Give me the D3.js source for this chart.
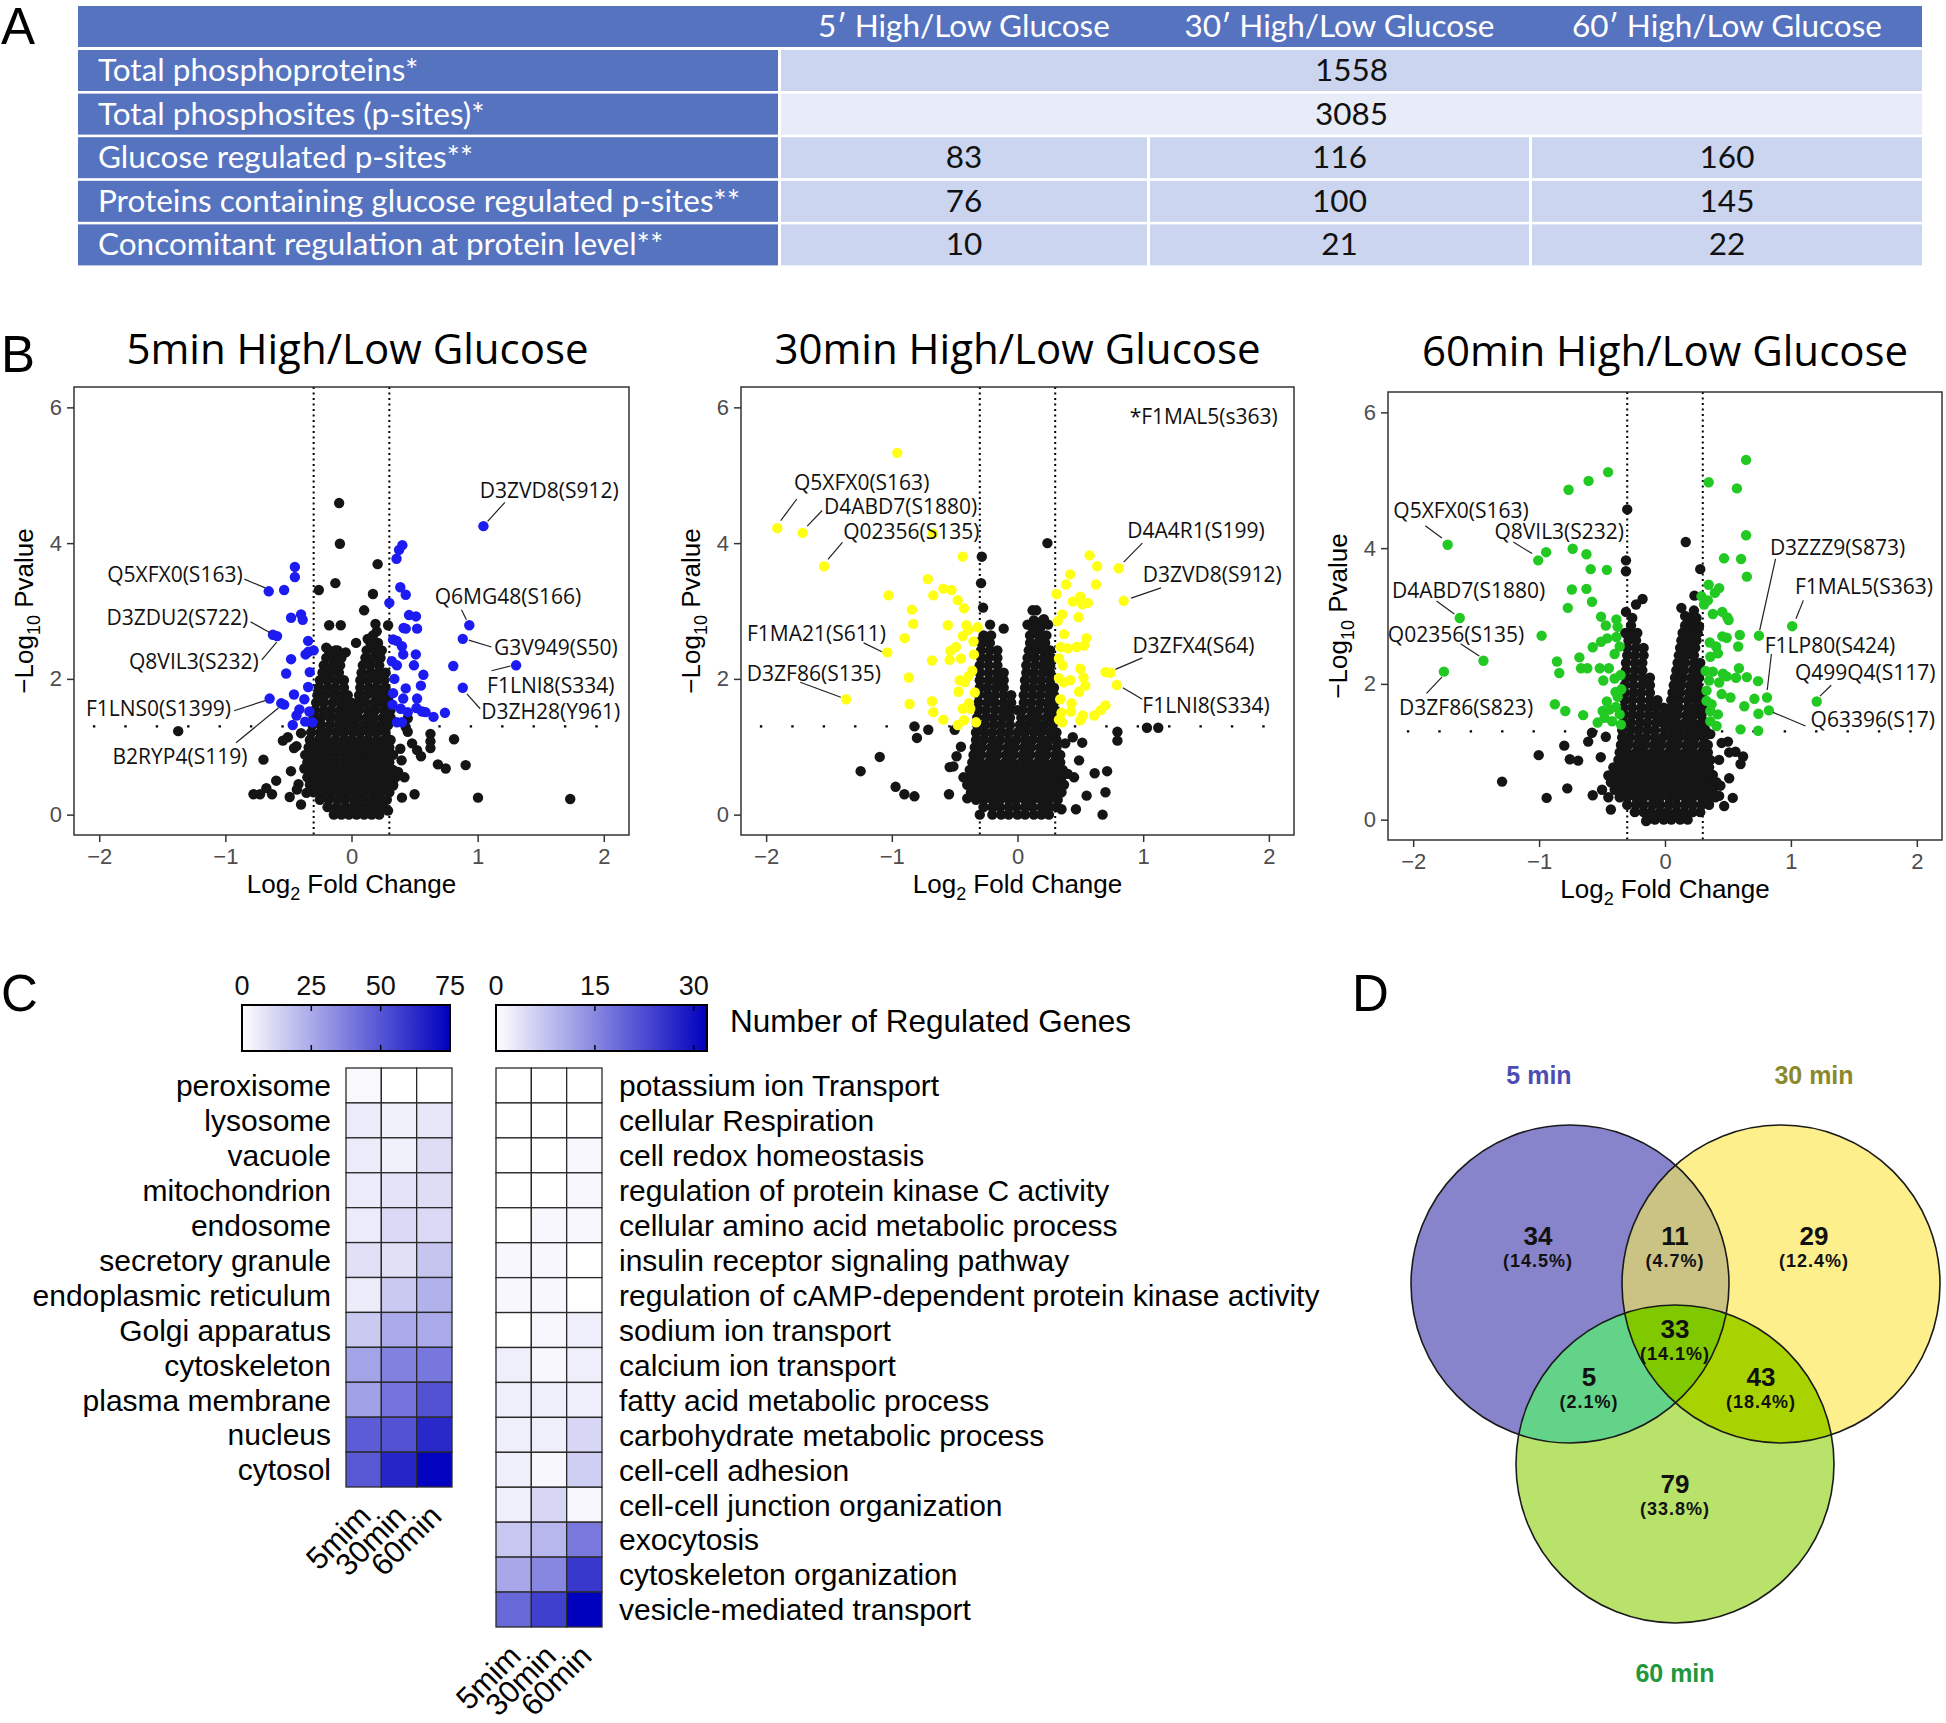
<!DOCTYPE html>
<html><head><meta charset="utf-8">
<script src="https://cdn.jsdelivr.net/npm/d3@7"></script>
<style>body{margin:0;background:#fff}svg{display:block}</style>
</head><body>
<svg id="fig" width="1946" height="1723"></svg>
<script>
// ================= DATA =================
// Panel A table
const tableHeader = ["5\u2032 High/Low Glucose","30\u2032 High/Low Glucose","60\u2032 High/Low Glucose"];
const tableRowLabels = ["Total phosphoproteins*","Total phosphosites (p-sites)*","Glucose regulated p-sites**","Proteins containing glucose regulated p-sites**","Concomitant regulation at protein level**"];
const tableValues = [[1558],[3085],[83,116,160],[76,100,145],[10,21,22]];

// Panel B volcano plots
const volcanoTitles = ["5min High/Low Glucose","30min High/Low Glucose","60min High/Low Glucose"];
const xTicks = [-2,-1,0,1,2];
const yTicks = [0,2,4,6];
const fcCut = [-0.3,0.3];
const pCut = 1.3;

// dense non-regulated cloud, rows of [-log10 p, [log2 FC ...]]
const blob5 = [
[0.00,[-0.14,-0.08,-0.02,0.04,0.10,0.16,0.22]],
[0.11,[-0.19,-0.12,-0.05,0.01,0.07,0.13,0.19,0.25]],
[0.22,[-0.25,-0.18,-0.11,-0.05,0.02,0.08,0.15,0.21,0.28]],
[0.33,[-0.30,-0.23,-0.16,-0.09,-0.03,0.04,0.10,0.17,0.23,0.30]],
[0.44,[-0.33,-0.26,-0.20,-0.13,-0.06,0.00,0.07,0.13,0.20,0.26,0.33]],
[0.55,[-0.35,-0.29,-0.22,-0.16,-0.09,-0.03,0.04,0.10,0.17,0.23,0.30,0.35]],
[0.66,[-0.33,-0.26,-0.20,-0.13,-0.06,0.00,0.07,0.13,0.20,0.26,0.33]],
[0.77,[-0.35,-0.29,-0.22,-0.16,-0.09,-0.03,0.04,0.10,0.17,0.23,0.30]],
[0.88,[-0.33,-0.26,-0.20,-0.13,-0.06,0.00,0.07,0.13,0.20,0.26,0.33]],
[0.99,[-0.34,-0.29,-0.22,-0.16,-0.09,-0.03,0.04,0.10,0.17,0.23,0.30]],
[1.10,[-0.33,-0.26,-0.20,-0.13,-0.06,0.00,0.07,0.13,0.20,0.26,0.31]],
[1.21,[-0.32,-0.25,-0.19,-0.12,-0.06,0.01,0.07,0.14,0.20,0.27]],
[1.32,[-0.31,-0.24,-0.17,-0.10,-0.04,0.03,0.10,0.16,0.23,0.29]],
[1.43,[-0.30,-0.24,-0.17,-0.11,-0.05,0.00,0.05,0.12,0.18,0.25,0.31]],
[1.54,[-0.29,-0.22,-0.16,-0.09,-0.03,0.02,0.06,0.13,0.19,0.26,0.31]],
[1.65,[-0.28,-0.22,-0.15,-0.09,-0.04,0.00,0.05,0.11,0.18,0.24,0.30]],
[1.76,[-0.27,-0.21,-0.14,-0.08,-0.03,0.06,0.12,0.19,0.25,0.30]],
[1.87,[-0.26,-0.19,-0.13,-0.06,0.07,0.14,0.20,0.27]],
[1.98,[-0.25,-0.19,-0.12,-0.06,0.07,0.13,0.20,0.26]],
[2.09,[-0.23,-0.17,-0.10,0.08,0.15,0.21,0.27]],
[2.20,[-0.22,-0.15,-0.09,0.09,0.15,0.22]],
[2.31,[-0.20,-0.14,-0.08,0.11,0.17,0.23]],
[2.42,[-0.18,-0.11,0.12,0.19,0.24]],
[2.53,[0.15,0.21]],
[2.64,[0.17]]
];
const blob30 = [
[0.00,[-0.20,-0.13,-0.07,0.00,0.06,0.13,0.19,0.25]],
[0.11,[-0.27,-0.20,-0.14,-0.07,-0.01,0.06,0.12,0.19,0.25,0.31]],
[0.22,[-0.33,-0.27,-0.20,-0.14,-0.07,-0.01,0.06,0.12,0.19,0.25,0.32]],
[0.33,[-0.37,-0.30,-0.23,-0.17,-0.10,-0.04,0.03,0.09,0.16,0.22,0.29,0.35]],
[0.44,[-0.40,-0.33,-0.27,-0.20,-0.14,-0.07,-0.01,0.06,0.12,0.19,0.25,0.32,0.37]],
[0.55,[-0.37,-0.30,-0.23,-0.17,-0.10,-0.04,0.03,0.09,0.16,0.22,0.29,0.35]],
[0.66,[-0.38,-0.33,-0.27,-0.20,-0.14,-0.07,-0.01,0.06,0.12,0.19,0.25,0.32,0.36]],
[0.77,[-0.36,-0.30,-0.23,-0.17,-0.10,-0.04,0.03,0.09,0.16,0.22,0.29,0.34]],
[0.88,[-0.35,-0.29,-0.22,-0.16,-0.09,-0.03,0.04,0.10,0.17,0.23,0.30,0.34]],
[0.99,[-0.34,-0.28,-0.21,-0.15,-0.08,-0.02,0.05,0.11,0.18,0.24,0.31]],
[1.10,[-0.33,-0.27,-0.20,-0.14,-0.07,-0.01,0.06,0.12,0.19,0.25,0.31]],
[1.21,[-0.33,-0.26,-0.20,-0.13,-0.07,0.00,0.06,0.13,0.19,0.26,0.31]],
[1.32,[-0.32,-0.26,-0.19,-0.13,-0.06,0.02,0.08,0.15,0.21,0.28]],
[1.43,[-0.32,-0.25,-0.19,-0.12,-0.06,0.03,0.10,0.16,0.23,0.29]],
[1.54,[-0.31,-0.25,-0.18,-0.12,-0.06,0.00,0.04,0.11,0.17,0.24,0.30]],
[1.65,[-0.31,-0.24,-0.18,-0.11,-0.05,0.05,0.11,0.18,0.24,0.29]],
[1.76,[-0.31,-0.24,-0.18,-0.11,-0.05,0.05,0.12,0.18,0.25,0.29]],
[1.87,[-0.30,-0.24,-0.17,-0.11,0.06,0.12,0.19,0.25,0.29]],
[1.98,[-0.30,-0.23,-0.17,-0.11,0.06,0.13,0.19,0.26]],
[2.09,[-0.30,-0.23,-0.16,-0.11,0.07,0.13,0.20,0.26]],
[2.20,[-0.30,-0.23,-0.16,0.07,0.14,0.20,0.26]],
[2.31,[-0.29,-0.23,-0.16,0.08,0.14,0.21,0.27]],
[2.42,[-0.29,-0.22,-0.16,0.09,0.15,0.21,0.26]],
[2.53,[-0.28,-0.22,0.10,0.16,0.22]],
[2.64,[-0.27,-0.21,0.10,0.17,0.23]],
[2.75,[0.12,0.18]],
[2.86,[0.13,0.20]]
];
const blob60 = [
[0.00,[-0.14,-0.08,-0.01,0.05,0.12,0.18]],
[0.11,[-0.24,-0.17,-0.11,-0.04,0.02,0.09,0.15,0.22,0.28]],
[0.22,[-0.30,-0.23,-0.17,-0.10,-0.04,0.03,0.09,0.16,0.22,0.29,0.35]],
[0.33,[-0.36,-0.30,-0.23,-0.17,-0.10,-0.04,0.03,0.09,0.16,0.22,0.29,0.35,0.40]],
[0.44,[-0.40,-0.33,-0.27,-0.20,-0.14,-0.07,-0.01,0.06,0.12,0.19,0.25,0.32,0.38]],
[0.55,[-0.43,-0.37,-0.30,-0.23,-0.17,-0.10,-0.04,0.03,0.09,0.16,0.22,0.29,0.35,0.41]],
[0.66,[-0.40,-0.33,-0.27,-0.20,-0.14,-0.07,-0.01,0.06,0.12,0.19,0.25,0.32,0.38]],
[0.77,[-0.41,-0.36,-0.30,-0.23,-0.17,-0.10,-0.04,0.03,0.09,0.16,0.22,0.29,0.35]],
[0.88,[-0.37,-0.33,-0.27,-0.20,-0.14,-0.07,-0.01,0.06,0.12,0.19,0.25,0.32,0.36]],
[0.99,[-0.36,-0.30,-0.23,-0.17,-0.10,-0.04,0.03,0.09,0.16,0.22,0.29,0.34]],
[1.10,[-0.35,-0.29,-0.22,-0.16,-0.09,-0.03,0.04,0.10,0.17,0.23,0.30,0.34]],
[1.21,[-0.34,-0.28,-0.21,-0.15,-0.08,-0.02,0.05,0.11,0.18,0.24,0.31]],
[1.32,[-0.34,-0.27,-0.21,-0.14,-0.08,0.00,0.07,0.13,0.20,0.26,0.32]],
[1.43,[-0.33,-0.27,-0.20,-0.14,-0.07,-0.02,0.03,0.09,0.16,0.22,0.29,0.32]],
[1.54,[-0.33,-0.26,-0.20,-0.13,-0.07,-0.01,0.04,0.10,0.17,0.23,0.29]],
[1.65,[-0.33,-0.26,-0.19,-0.13,-0.07,-0.01,0.05,0.11,0.18,0.24,0.30]],
[1.76,[-0.32,-0.26,-0.19,-0.12,-0.06,0.05,0.11,0.18,0.24,0.30]],
[1.87,[-0.32,-0.25,-0.19,-0.12,0.06,0.12,0.19,0.25,0.30]],
[1.98,[-0.32,-0.25,-0.18,-0.12,0.07,0.13,0.20,0.26]],
[2.09,[-0.31,-0.25,-0.18,-0.12,0.08,0.14,0.21,0.27]],
[2.20,[-0.31,-0.24,-0.18,0.09,0.15,0.22,0.28]],
[2.31,[-0.31,-0.24,-0.18,0.10,0.16,0.23,0.28]],
[2.42,[-0.30,-0.24,-0.17,0.11,0.17,0.23]],
[2.53,[-0.30,-0.23,-0.17,0.12,0.18,0.24]],
[2.64,[-0.29,-0.23,0.13,0.19,0.25]],
[2.75,[-0.28,-0.22,0.14,0.20,0.26]],
[2.86,[-0.27,0.16,0.22]],
[2.97,[-0.26,0.19,0.25]],
[3.08,[0.23]]
];

// scattered non-regulated sites [log2FC, -log10 p]
const black5 = [[-0.098,4.59],[-0.092,3.99],[0.207,3.69],[-0.128,3.41],[-0.259,3.31],[0.17,3.25],[0.10,3.01],[-0.177,2.79],[-0.085,2.79],[0.19,2.81],[0.29,2.79],[0.20,2.70],[0.036,2.53],[0.128,2.59],[0.167,2.52],[-0.20,2.46],[-0.128,2.42],[-0.046,2.39],[-1.374,1.23],[-0.698,0.81],[-0.544,1.09],[-0.505,1.14],[0.813,1.11],[0.626,1.19],[0.626,1.08],[0.626,0.98],[0.551,0.86],[0.685,0.74],[0.747,0.68],[0.905,0.73],[1.003,0.25],[1.734,0.23],[-0.777,0.30],[-0.725,0.30],[-0.675,0.39],[-0.63,0.30],[-0.597,0.50],[-0.49,0.26],[-0.433,0.37],[-0.48,0.64],[-0.456,0.98],[-0.436,1.01],[-0.357,0.32],[-0.374,0.68],[-0.367,0.88],[0.446,1.22],[0.446,1.42],[0.43,1.29],[0.387,0.97],[0.397,0.80],[0.37,0.63],[0.33,0.43],[0.29,0.06],[-0.40,1.20],[-0.42,0.45],[0.42,0.55],[0.48,1.05],[0.52,0.95],[-0.40,0.15],[0.40,0.25],[0.50,0.30]];
const black30 = [[0.238,4.00],[-0.284,3.80],[-0.29,3.41],[-0.274,3.05],[0.12,3.01],[0.15,3.01],[0.21,2.88],[0.244,2.80],[0.08,2.80],[0.135,2.81],[-0.218,2.80],[-0.11,2.74],[-0.294,2.55],[1.03,1.28],[1.12,1.28],[-0.82,1.30],[-0.80,1.13],[-0.71,1.25],[-1.096,0.85],[-1.248,0.64],[-0.97,0.41],[-0.90,0.30],[-0.82,0.27],[-0.545,0.30],[-0.54,0.70],[-0.51,0.71],[-0.485,0.86],[-0.40,0.24],[0.795,1.22],[0.795,1.09],[0.614,0.61],[0.713,0.64],[0.70,0.33],[0.677,0.0],[0.55,0.28],[0.465,0.08],[0.35,0.08],[0.515,1.06],[0.44,1.14],[0.49,0.80],[0.45,0.55],[-0.45,1.0],[-0.50,1.25],[-0.43,0.55],[0.38,1.05],[0.40,0.60],[-0.30,0.0]];
const black60 = [[-0.30,4.57],[-0.31,3.82],[-0.31,3.66],[0.165,4.09],[0.28,3.69],[-0.178,3.25],[-0.23,3.17],[-0.31,3.06],[-0.315,2.75],[0.234,3.30],[0.13,3.12],[0.16,3.00],[0.24,2.95],[0.16,2.80],[0.27,2.85],[-1.294,0.56],[-1.003,0.95],[-0.94,0.32],[-0.80,1.09],[-0.756,0.89],[-0.69,0.87],[-0.776,0.46],[-0.574,0.36],[-0.50,0.44],[-0.45,0.33],[-0.61,1.15],[-0.58,1.28],[-0.51,0.92],[0.538,0.32],[0.62,0.93],[0.60,0.82],[0.51,0.61],[0.44,0.50],[0.43,0.35],[0.51,0.99],[0.56,1.00],[0.36,1.26],[0.45,1.13],[0.43,0.88],[-0.15,-0.02],[-0.47,1.22],[-0.45,0.65],[-0.43,0.15],[0.47,0.20],[0.50,1.15]];

// glucose-regulated p-sites
const reg5 = [[-0.656,3.29],[-0.534,3.31],[-0.449,3.65],[-0.449,3.50],[-0.479,2.90],[-0.40,2.95],[-0.387,2.87],[-0.623,2.65],[-0.59,2.63],[-0.344,2.56],[-0.364,2.36],[-0.341,2.40],[-0.30,2.42],[-0.479,2.29],[-0.331,2.10],[-0.518,2.08],[-0.344,1.88],[-0.456,1.77],[-0.649,1.71],[-0.557,1.64],[-0.534,1.62],[-0.374,1.70],[-0.413,1.55],[-0.436,1.46],[-0.334,1.52],[-0.367,1.37],[-0.466,1.32],[-0.31,1.36],
[1.046,4.25],[0.403,3.97],[0.377,3.90],[0.357,3.77],[0.387,3.35],[0.43,3.24],[0.30,3.12],[0.456,2.94],[0.511,2.92],[0.413,2.75],[0.43,2.74],[0.52,2.74],[0.934,2.79],[0.882,2.59],[0.33,2.58],[0.36,2.56],[0.40,2.48],[0.41,2.36],[0.51,2.36],[0.32,2.26],[0.36,2.20],[0.495,2.20],[0.807,2.19],[1.305,2.20],[0.57,2.06],[0.34,2.00],[0.55,1.90],[0.43,1.86],[0.882,1.87],[0.33,1.79],[0.41,1.71],[0.52,1.71],[0.325,1.62],[0.39,1.56],[0.515,1.57],[0.56,1.52],[0.587,1.51],[0.65,1.44],[0.741,1.50],[0.36,1.36],[0.40,1.36],[0.446,1.51]];
const reg30 = [[-0.957,5.33],[-1.911,4.22],[-1.71,4.15],[-0.673,4.14],[-1.538,3.66],[-0.436,3.80],[-0.713,3.47],[-1.026,3.23],[-0.670,3.23],[-0.59,3.33],[-0.525,3.31],[-0.475,3.16],[-0.426,3.04],[-0.84,3.02],[-0.83,2.81],[-0.554,2.79],[-0.406,2.79],[-0.393,2.72],[-0.317,2.76],[-0.436,2.63],[-0.898,2.60],[-1.036,2.39],[-0.535,2.41],[-0.49,2.47],[-0.68,2.27],[-0.54,2.28],[-0.347,2.36],[-0.865,2.02],[-0.46,1.98],[-0.39,2.04],[-0.42,1.95],[-0.36,2.12],[-0.47,1.81],[-1.363,1.70],[-0.858,1.63],[-0.68,1.67],[-0.67,1.51],[-0.59,1.40],[-0.475,1.32],[-0.426,1.39],[-0.376,1.56],[-0.33,1.36],[-0.386,1.64],[-0.436,1.56],[-0.34,1.80],[-0.45,2.30],[-0.35,2.55],
[0.574,3.82],[0.805,3.63],[0.634,3.66],[0.419,3.54],[0.386,3.39],[0.624,3.39],[0.31,3.25],[0.845,3.15],[0.44,3.14],[0.50,3.21],[0.56,3.12],[0.515,3.10],[0.356,2.95],[0.485,2.91],[0.32,2.85],[0.37,2.66],[0.548,2.60],[0.343,2.47],[0.40,2.45],[0.47,2.47],[0.53,2.49],[0.70,2.10],[0.74,2.09],[0.50,2.15],[0.525,2.02],[0.33,2.01],[0.366,1.95],[0.42,1.98],[0.79,1.91],[0.54,1.90],[0.34,1.70],[0.43,1.64],[0.49,1.81],[0.70,1.61],[0.663,1.54],[0.35,1.50],[0.426,1.52],[0.61,1.46],[0.52,1.46],[0.50,1.39],[0.356,1.36],[0.33,2.30],[0.36,2.20],[0.33,1.40]];
const reg60 = [[-1.726,4.05],[-1.63,2.97],[-1.442,2.34],[-1.756,2.18],[-1.007,3.82],[-0.944,3.94],[-0.733,3.99],[-0.624,3.91],[-0.59,3.69],[-0.462,3.68],[-0.766,4.86],[-0.607,4.99],[-0.452,5.12],[-0.74,3.39],[-0.624,3.40],[-0.58,3.21],[-0.772,3.12],[-0.98,2.71],[-0.508,2.99],[-0.47,2.86],[-0.386,2.95],[-0.376,2.84],[-0.459,2.67],[-0.386,2.69],[-0.574,2.54],[-0.508,2.62],[-0.40,2.44],[-0.36,2.55],[-0.858,2.33],[-0.84,2.16],[-0.68,2.39],[-0.667,2.23],[-0.617,2.23],[-0.518,2.23],[-0.446,2.23],[-0.49,2.05],[-0.40,2.08],[-0.353,2.13],[-0.347,1.92],[-0.393,1.88],[-0.875,1.70],[-0.792,1.60],[-0.65,1.54],[-0.462,1.74],[-0.376,1.81],[-0.495,1.60],[-0.44,1.62],[-0.39,1.66],[-0.535,1.43],[-0.48,1.50],[-0.42,1.45],[-0.36,1.55],[-0.35,1.40],
[0.644,5.30],[0.347,4.97],[0.571,4.88],[0.644,4.19],[0.469,3.85],[0.604,3.84],[0.65,3.58],[0.347,3.46],[0.43,3.41],[0.396,3.34],[0.29,3.29],[0.31,3.17],[0.34,3.23],[0.455,3.06],[0.495,2.98],[0.505,2.94],[0.38,3.03],[0.594,2.72],[0.746,2.71],[1.01,2.85],[0.455,2.70],[0.49,2.68],[0.581,2.55],[0.406,2.55],[0.356,2.61],[0.36,2.40],[0.42,2.45],[0.587,2.23],[0.323,2.19],[0.38,2.18],[0.46,2.15],[0.49,2.11],[0.739,2.04],[0.65,2.10],[0.564,2.09],[0.43,2.02],[0.81,1.80],[0.71,1.78],[1.205,1.74],[0.63,1.67],[0.825,1.61],[0.742,1.56],[0.42,1.55],[0.36,1.60],[0.37,1.70],[0.33,1.75],[0.60,1.33],[0.74,1.31],[0.36,1.45],[0.41,1.38],[0.33,1.90],[0.35,2.05],[0.45,1.85],[0.52,1.80]];

// labelled sites: text, text centre (data units), leader line [x1,y1,x2,y2]
const labels5 = [
{t:"D3ZVD8(S912)",x:1.567,y:4.77,line:[1.216,4.60,1.079,4.32]},
{t:"Q5XFX0(S163)",x:-1.40,y:3.54,line:[-0.849,3.47,-0.685,3.34]},
{t:"D3ZDU2(S722)",x:-1.38,y:2.91,line:[-0.80,2.84,-0.646,2.68]},
{t:"Q8VIL3(S232)",x:-1.25,y:2.25,line:[-0.711,2.28,-0.593,2.54]},
{t:"F1LNS0(S1399)",x:-1.53,y:1.56,line:[-0.931,1.53,-0.685,1.68]},
{t:"B2RYP4(S119)",x:-1.36,y:0.85,line:[-0.915,1.06,-0.58,1.57]},
{t:"Q6MG48(S166)",x:1.24,y:3.22,line:[0.872,3.02,0.911,2.87]},
{t:"G3V949(S50)",x:1.62,y:2.47,line:[1.11,2.47,0.93,2.57]},
{t:"F1LNI8(S334)",x:1.58,y:1.91,line:[1.11,2.12,1.26,2.19]},
{t:"D3ZH28(Y961)",x:1.58,y:1.52,line:[1.02,1.56,0.915,1.78]}];
const labels30 = [
{t:"*F1MAL5(s363)",x:2.07,y:5.86,anchor:"end"},
{t:"Q5XFX0(S163)",x:-1.24,y:4.89,line:[-1.756,4.65,-1.884,4.33]},
{t:"D4ABD7(S1880)",x:-0.93,y:4.54,line:[-1.554,4.48,-1.673,4.25]},
{t:"Q02356(S135)",x:-0.845,y:4.17,line:[-1.393,4.01,-1.508,3.76]},
{t:"F1MA21(S611)",x:-1.60,y:2.67,line:[-1.224,2.53,-1.079,2.40]},
{t:"D3ZF86(S135)",x:-1.62,y:2.08,line:[-1.729,1.95,-1.406,1.73]},
{t:"D4A4R1(S199)",x:1.42,y:4.18,line:[0.993,4.00,0.845,3.72]},
{t:"D3ZVD8(S912)",x:1.55,y:3.54,line:[1.142,3.34,0.904,3.19]},
{t:"D3ZFX4(S64)",x:1.40,y:2.49,line:[0.993,2.31,0.779,2.14]},
{t:"F1LNI8(S334)",x:1.50,y:1.61,line:[0.993,1.70,0.838,1.87]}];
const labels60 = [
{t:"Q5XFX0(S163)",x:-1.62,y:4.55,line:[-1.904,4.33,-1.772,4.15]},
{t:"Q8VIL3(S232)",x:-0.84,y:4.24,line:[-1.205,4.09,-1.056,3.92]},
{t:"D4ABD7(S1880)",x:-1.56,y:3.37,line:[-1.815,3.22,-1.673,3.03]},
{t:"Q02356(S135)",x:-1.66,y:2.73,line:[-1.624,2.59,-1.475,2.41]},
{t:"D3ZF86(S823)",x:-1.58,y:1.65,line:[-1.894,1.86,-1.772,2.10]},
{t:"D3ZZZ9(S873)",x:1.37,y:4.01,line:[0.878,3.84,0.752,2.79]},
{t:"F1MAL5(S363)",x:1.58,y:3.43,line:[1.099,3.23,1.04,2.96]},
{t:"F1LP80(S424)",x:1.31,y:2.57,line:[0.845,2.44,0.812,1.91]},
{t:"Q499Q4(S117)",x:1.59,y:2.17,line:[1.32,1.98,1.231,1.82]},
{t:"Q63396(S17)",x:1.65,y:1.47,line:[1.116,1.38,0.858,1.58]}];

// Panel C heatmaps
const timeLabels = ["5mim","30min","60min"];
const ccTerms = ["peroxisome","lysosome","vacuole","mitochondrion","endosome","secretory granule","endoplasmic reticulum","Golgi apparatus","cytoskeleton","plasma membrane","nucleus","cytosol"];
const ccCounts = [[2,0,0],[6,4,7],[6,4,10],[6,8,10],[6,11,11],[9,9,17],[6,16,23],[16,25,25],[27,37,40],[28,41,51],[48,51,63],[49,64,74]];
const ccTicks = [0,25,50,75];
const bpTerms = ["potassium ion Transport","cellular Respiration","cell redox homeostasis","regulation of protein kinase C activity","cellular amino acid metabolic process","insulin receptor signaling pathway","regulation of cAMP-dependent protein kinase activity","sodium ion transport","calcium ion transport","fatty acid metabolic process","carbohydrate metabolic process","cell-cell adhesion","cell-cell junction organization","exocytosis","cytoskeleton organization","vesicle-mediated transport"];
const bpCounts = [[0,0,0],[0,0,0],[0,0,1],[0,0,1],[0,1,1],[1,1,0],[1,1,0],[0,1,2],[2,1,2],[2,2,2],[2,2,5],[2,1,6],[2,5,1],[7,9,17],[11,15,25],[19,24,32]];
const bpTicks = [0,15,30];

// Panel D Venn
const vennSets = ["5 min","30 min","60 min"];
const vennRegions = ["5","30","60","5&30","5&60","30&60","5&30&60"];
const vennCounts = [34,29,79,11,5,43,33];
const vennPercents = ["14.5%","12.4%","33.8%","4.7%","2.1%","18.4%","14.1%"];

// ================= DRAWING =================
const svg = d3.select("#fig");
const ARIAL = "'Liberation Sans', Arial, Helvetica, sans-serif";
const TABF = "Lato, 'Open Sans', sans-serif";
const PLOTF = "'Open Sans', 'Noto Sans', sans-serif";
const defs = svg.append("defs");

function panelLetter(t,x,y){
  svg.append("text").attr("x",x).attr("y",y).attr("font-family",ARIAL).attr("font-size",51).attr("fill","#000").text(t);
}
panelLetter("A",1,44); panelLetter("B",1,372); panelLetter("C",1,1011); panelLetter("D",1352,1011);

// ---------- Panel A ----------
(function(){
  const g = svg.append("g").attr("font-family",TABF).attr("font-size",31.5);
  const dark="#5673bf", light="#cbd5f0", lighter="#e8ecf8";
  const X0=78, X1=1922, labR=778;
  const dataCols=[[781,1147],[1150,1529],[1532,1922]];
  g.append("rect").attr("x",X0).attr("y",6).attr("width",X1-X0).attr("height",41).attr("fill",dark);
  tableHeader.forEach((h,j)=>{
    g.append("text").attr("x",(dataCols[j][0]+dataCols[j][1])/2).attr("y",37).attr("text-anchor","middle").attr("fill","#fff").text(h);
  });
  tableRowLabels.forEach((lab,i)=>{
    const top=50+i*43.6;
    g.append("rect").attr("x",X0).attr("y",top).attr("width",labR-X0).attr("height",41).attr("fill",dark);
    g.append("text").attr("x",98).attr("y",top+31).attr("fill","#fff").text(lab);
    const vals=tableValues[i];
    if(vals.length===1){
      g.append("rect").attr("x",781).attr("y",top).attr("width",X1-781).attr("height",41).attr("fill",i===1?lighter:light);
      g.append("text").attr("x",(781+X1)/2).attr("y",top+31).attr("text-anchor","middle").attr("fill","#111").text(vals[0]);
    } else {
      vals.forEach((v,j)=>{
        g.append("rect").attr("x",dataCols[j][0]).attr("y",top).attr("width",dataCols[j][1]-dataCols[j][0]).attr("height",41).attr("fill",light);
        g.append("text").attr("x",(dataCols[j][0]+dataCols[j][1])/2).attr("y",top+31).attr("text-anchor","middle").attr("fill","#111").text(v);
      });
    }
  });
})();

// ---------- Panel B ----------
function drawVolcano(cfg){
  const {left,top,width,height}=cfg;
  const g=svg.append("g");
  const x=d3.scaleLinear().domain([-2.2,2.2]).range([left,left+width]);
  const y=d3.scaleLinear().domain([-0.3,6.3]).range([top+height,top]);
  g.append("rect").attr("x",left).attr("y",top).attr("width",width).attr("height",height).attr("fill","#fff");
  g.selectAll(".vcut").data(fcCut).join("line").attr("x1",d=>x(d)).attr("x2",d=>x(d)).attr("y1",top).attr("y2",top+height)
    .attr("stroke","#000").attr("stroke-width",2).attr("stroke-dasharray","2,3.5");
  g.append("line").attr("x1",x(-2.05)).attr("x2",x(2.05)).attr("y1",y(pCut)).attr("y2",y(pCut))
    .attr("stroke","#000").attr("stroke-width",2.4).attr("stroke-dasharray","2.4,29");
  const cloud=cfg.blob.flatMap(([yy,xs])=>xs.map(xx=>[xx,yy])).concat(cfg.black);
  g.append("g").selectAll("circle").data(cloud).join("circle")
    .attr("cx",d=>x(d[0])).attr("cy",d=>y(d[1])).attr("r",5.2).attr("fill","#151515");
  g.append("g").selectAll("circle").data(cfg.reg).join("circle")
    .attr("cx",d=>x(d[0])).attr("cy",d=>y(d[1])).attr("r",5.2).attr("fill",cfg.color);
  g.append("g").selectAll("line").data(cfg.labels.filter(d=>d.line)).join("line")
    .attr("x1",d=>x(d.line[0])).attr("y1",d=>y(d.line[1])).attr("x2",d=>x(d.line[2])).attr("y2",d=>y(d.line[3]))
    .attr("stroke","#222").attr("stroke-width",1.2);
  g.append("g").selectAll("text").data(cfg.labels).join("text")
    .attr("x",d=>x(d.x)).attr("y",d=>y(d.y)).attr("dy","0.36em").attr("text-anchor",d=>d.anchor||"middle")
    .attr("font-family",PLOTF).attr("font-size",21).attr("fill","#111").text(d=>d.t);
  g.append("rect").attr("x",left).attr("y",top).attr("width",width).attr("height",height)
    .attr("fill","none").attr("stroke","#333").attr("stroke-width",1.5);
  const fmt=d3.format("d");
  const ax=g.append("g").attr("transform",`translate(0,${top+height})`)
    .call(d3.axisBottom(x).tickValues(xTicks).tickFormat(fmt).tickSize(7).tickPadding(6));
  const ay=g.append("g").attr("transform",`translate(${left},0)`)
    .call(d3.axisLeft(y).tickValues(yTicks).tickFormat(fmt).tickSize(7).tickPadding(5));
  [ax,ay].forEach(a=>{
    a.select(".domain").remove();
    a.selectAll(".tick line").attr("stroke","#333").attr("stroke-width",1.5);
    a.selectAll(".tick text").attr("font-family",ARIAL).attr("font-size",22).attr("fill","#4d4d4d");
  });
  const xt=g.append("text").attr("x",left+width/2).attr("y",top+height+58).attr("text-anchor","middle")
    .attr("font-family",ARIAL).attr("font-size",26).attr("fill","#000");
  xt.append("tspan").text("Log");
  xt.append("tspan").attr("dy",7).attr("font-size",18).text("2");
  xt.append("tspan").attr("dy",-7).text(" Fold Change");
  const yt=g.append("text").attr("transform",`translate(${left-41},${top+height/2}) rotate(-90)`).attr("text-anchor","middle")
    .attr("font-family",ARIAL).attr("font-size",26).attr("fill","#000");
  yt.append("tspan").text("\u2212Log");
  yt.append("tspan").attr("dy",7).attr("font-size",18).text("10");
  yt.append("tspan").attr("dy",-7).text(" Pvalue");
  g.append("text").attr("x",left+width/2+cfg.titleShift).attr("y",cfg.titleY).attr("text-anchor","middle")
    .attr("font-family",PLOTF).attr("font-size",42).attr("fill","#000").text(cfg.title);
}
drawVolcano({left:74,top:387,width:555,height:448,titleY:364,titleShift:6,title:volcanoTitles[0],blob:blob5,black:black5,reg:reg5,color:"#1c1cf2",labels:labels5});
drawVolcano({left:741,top:387,width:553,height:448,titleY:364,titleShift:0,title:volcanoTitles[1],blob:blob30,black:black30,reg:reg30,color:"#ffff14",labels:labels30});
drawVolcano({left:1388,top:392,width:554,height:448,titleY:366,titleShift:0,title:volcanoTitles[2],blob:blob60,black:black60,reg:reg60,color:"#22c922",labels:labels60});

// ---------- Panel C ----------
function drawHeat(cfg){
  const g=svg.append("g").attr("font-family",ARIAL);
  const xb=d3.scaleBand().domain(timeLabels).range([cfg.x0,cfg.x1]);
  const yb=d3.scaleBand().domain(cfg.terms).range([cfg.y0,cfg.y1]);
  const col=d3.scaleLinear().domain([0,cfg.max]).range(["#ffffff","#0000bf"]);
  const cells=cfg.terms.flatMap((t,i)=>timeLabels.map((tl,j)=>({t,tl,v:cfg.counts[i][j]})));
  g.append("g").selectAll("rect").data(cells).join("rect")
    .attr("x",d=>xb(d.tl)).attr("y",d=>yb(d.t)).attr("width",xb.bandwidth()).attr("height",yb.bandwidth())
    .attr("fill",d=>col(d.v)).attr("stroke","#2a2a2a").attr("stroke-width",1.3);
  g.append("g").selectAll("text").data(cfg.terms).join("text")
    .attr("x",cfg.labelX).attr("y",d=>yb(d)+yb.bandwidth()/2).attr("dy","0.36em")
    .attr("text-anchor",cfg.anchor).attr("font-size",30).attr("fill","#000").text(d=>d);
  g.append("g").selectAll("text").data(timeLabels).join("text")
    .attr("transform",d=>`translate(${xb(d)+xb.bandwidth()/2+9},${cfg.y1+31}) rotate(-45)`)
    .attr("text-anchor","end").attr("font-size",31).attr("fill","#000").text(d=>d);
  const gid="grad"+cfg.id;
  const lg=defs.append("linearGradient").attr("id",gid);
  lg.append("stop").attr("offset","0%").attr("stop-color","#ffffff");
  lg.append("stop").attr("offset","100%").attr("stop-color",col(cfg.barMax));
  const bx=d3.scaleLinear().domain([0,cfg.barMax]).range([cfg.bar[0],cfg.bar[1]]);
  const by0=1005, by1=1051;
  g.append("rect").attr("x",bx(0)).attr("y",by0).attr("width",bx(cfg.barMax)-bx(0)).attr("height",by1-by0)
    .attr("fill",`url(#${gid})`).attr("stroke","#000").attr("stroke-width",2);
  const inner=cfg.ticks.filter(v=>v>0&&v<cfg.barMax);
  g.append("g").selectAll("line").data(inner).join("line")
    .attr("x1",d=>bx(d)).attr("x2",d=>bx(d)).attr("y1",by0).attr("y2",by0+6).attr("stroke","#000").attr("stroke-width",1.5);
  g.append("g").selectAll("line").data(inner).join("line")
    .attr("x1",d=>bx(d)).attr("x2",d=>bx(d)).attr("y1",by1-6).attr("y2",by1).attr("stroke","#000").attr("stroke-width",1.5);
  g.append("g").selectAll("text").data(cfg.ticks).join("text")
    .attr("x",d=>bx(d)).attr("y",995).attr("text-anchor","middle").attr("font-size",27).attr("fill","#111").text(d=>d);
}
drawHeat({id:"cc",terms:ccTerms,counts:ccCounts,max:75,barMax:75,ticks:ccTicks,x0:346,x1:452,y0:1068,y1:1487,labelX:331,anchor:"end",bar:[242,450]});
drawHeat({id:"bp",terms:bpTerms,counts:bpCounts,max:32,barMax:32,ticks:bpTicks,x0:496,x1:602,y0:1068,y1:1627,labelX:619,anchor:"start",bar:[496,707]});
svg.append("text").attr("x",730).attr("y",1032).attr("font-family",ARIAL).attr("font-size",31.5).attr("fill","#000").text("Number of Regulated Genes");

// ---------- Panel D ----------
(function(){
  const R=159;
  const C=[{cx:1570,cy:1284},{cx:1781,cy:1284},{cx:1675,cy:1464}];
  const g=svg.append("g");
  ["cP","cY","cG"].forEach((id,i)=>defs.append("clipPath").attr("id",id).append("circle").attr("cx",C[i].cx).attr("cy",C[i].cy).attr("r",R));
  const circ=(sel,i,fill)=>sel.append("circle").attr("cx",C[i].cx).attr("cy",C[i].cy).attr("r",R).attr("fill",fill);
  circ(g,0,"#8884cc"); circ(g,1,"#fcef8c"); circ(g,2,"#b9e26b");
  circ(g,1,"#cbc383").attr("clip-path","url(#cP)");
  circ(g,2,"#63d38a").attr("clip-path","url(#cP)");
  circ(g,2,"#a9d300").attr("clip-path","url(#cY)");
  circ(g.append("g").attr("clip-path","url(#cY)"),2,"#80c800").attr("clip-path","url(#cP)");
  C.forEach((c,i)=>circ(g,i,"none").attr("stroke","#1a1a1a").attr("stroke-width",1.6));
  const setPos=[[1539,1084],[1814,1084],[1675,1682]];
  const setCol=["#4d4db3","#8a8a2c","#20973a"];
  vennSets.forEach((s,i)=>g.append("text").attr("x",setPos[i][0]).attr("y",setPos[i][1]).attr("text-anchor","middle")
    .attr("font-family",ARIAL).attr("font-weight","bold").attr("font-size",25).attr("fill",setCol[i]).text(s));
  const regPos=[[1538,1239],[1814,1239],[1675,1487],[1675,1239],[1589,1380],[1761,1380],[1675,1332]];
  vennRegions.forEach((r,i)=>{
    g.append("text").attr("x",regPos[i][0]).attr("y",regPos[i][1]+6).attr("text-anchor","middle")
      .attr("font-family",ARIAL).attr("font-weight","bold").attr("font-size",26).attr("fill","#111").text(vennCounts[i]);
    g.append("text").attr("x",regPos[i][0]).attr("y",regPos[i][1]+28).attr("text-anchor","middle")
      .attr("font-family",ARIAL).attr("font-weight","bold").attr("font-size",18).attr("letter-spacing",1).attr("fill","#111").text("("+vennPercents[i]+")");
  });
})();
</script>
</body></html>
